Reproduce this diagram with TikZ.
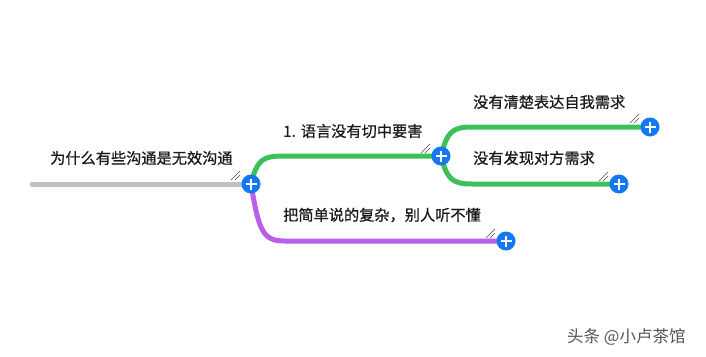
\documentclass[tikz,border=0pt]{standalone}
\usepackage{fontspec}
\newfontfamily\cjk[FakeBold=0.7]{Noto Sans CJK SC}
\newfontfamily\cjkw{Noto Sans CJK SC}
\definecolor{brgray}{HTML}{C0C0C0}
\definecolor{brgreen}{HTML}{3CC15A}
\definecolor{brpurple}{HTML}{B95FEA}
\definecolor{plusblue}{HTML}{1478F0}
\definecolor{txt}{HTML}{1A1A1A}
\definecolor{wm}{HTML}{555555}
\tikzset{
  branch/.style={line width=5pt, line cap=round},
  plusnode/.style={circle, fill=plusblue, minimum size=19pt, inner sep=0pt,
    path picture={\draw[white, line width=2.8pt] ([xshift=-5.5pt]path picture bounding box.center) -- ([xshift=5.5pt]path picture bounding box.center);
                  \draw[white, line width=2.8pt] ([yshift=-5.5pt]path picture bounding box.center) -- ([yshift=5.5pt]path picture bounding box.center);}},
  lbl/.style={font=\cjk\fontsize{15.2}{17}\selectfont, text=txt, anchor=west, inner sep=0pt},
  rmk/.style={draw=black!70, line width=0.6pt}
}
\newcommand{\resizemark}[2]{%
  \draw[rmk] (#1-5,#2+4) -- (#1+4,#2-5);
  \draw[rmk] (#1-1,#2+4) -- (#1+4,#2-1);
}
\begin{document}
\begin{tikzpicture}[x=1pt,y=-1pt]
\useasboundingbox[fill=white] (0,0) rectangle (706,356);
% anchor coordinates
\coordinate (a) at (32,184);
\coordinate (c0) at (251,184);
\coordinate (c1) at (441,156);
\coordinate (c2) at (650,127);
\coordinate (c3) at (619,184);
\coordinate (c4) at (506,241);
% branches
\draw[branch, brgray] (a) -- (c0);
\draw[branch, brgreen] (c0) .. controls (257,160) and (262,156) .. (284,156) -- (c1);
\draw[branch, brgreen] (c1) .. controls (447,132) and (452,127) .. (472,127) -- (c2);
\draw[branch, brgreen] (c1) .. controls (447,179) and (452,184) .. (472,184) -- (c3);
\draw[branch, brpurple] (c0) .. controls (259,232) and (263,241) .. (285,241) -- (c4);
% resize marks
\resizemark{236}{176}
\resizemark{426}{149}
\resizemark{635}{119}
\resizemark{604}{177}
\resizemark{491}{234}
% plus nodes
\node[plusnode] (p0) at (c0) {};
\node[plusnode] (p1) at (c1) {};
\node[plusnode] (p2) at (c2) {};
\node[plusnode] (p3) at (c3) {};
\node[plusnode] (p4) at (c4) {};
% labels
\node[lbl] (t0) at (50,158) {为什么有些沟通是无效沟通};
\node[lbl] (t1) at (283,131) {1.\hspace{5pt}语言没有切中要害};
\node[lbl] (t2) at (473,102) {没有清楚表达自我需求};
\node[lbl] (t3) at (473,158) {没有发现对方需求};
\node[lbl] (t4) at (283,215) {把简单说的复杂，别人听不懂};
\node[font=\cjkw\fontsize{16.5}{18}\selectfont, text=wm, anchor=west, inner sep=0pt] (w) at (567,337) {头条 @小卢茶馆};
\end{tikzpicture}
\end{document}
